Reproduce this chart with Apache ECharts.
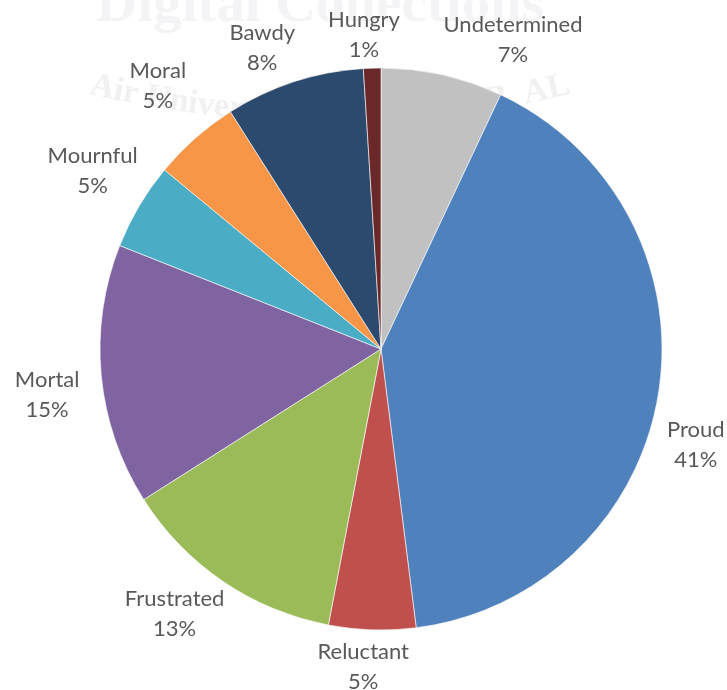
<!DOCTYPE html>
<html>
<head>
<meta charset="utf-8">
<script src="https://cdn.jsdelivr.net/npm/echarts@6/dist/echarts.min.js"></script>
<style>
  html, body { margin: 0; padding: 0; background: #ffffff; }
  #chart { width: 727px; height: 690px; }
</style>
</head>
<body>
<div id="chart"></div>
<script>
// Share of poems by tone (percent)
const categories = ['Undetermined', 'Proud', 'Reluctant', 'Frustrated', 'Mortal', 'Mournful', 'Moral', 'Bawdy', 'Hungry'];
const shares = [7, 41, 5, 13, 15, 5, 5, 8, 1];
const sliceColors = ['#c1c1c1', '#4f81bd', '#c0504d', '#9bbb59', '#8064a2', '#4bacc6', '#f79646', '#2c4a6d', '#6b2828'];

// Label placement tweaks: turn along the rim (degrees, clockwise) and gap from the rim (px)
const labelTurn = [10.5, 7.9, 1.4, 3.7, -2.4, 1.1, 1.1, -3.5, -1.3];
const labelGap = [8, 14, 13, 7, 21, 8, 29, 10.5, 9.6];

const CX = 381, CY = 349, R = 281;
const total = shares.reduce((a, b) => a + b, 0);
const midAngles = [];
let acc = 0;
shares.forEach(v => { midAngles.push((acc + v / 2) / total * 360); acc += v; });

const chart = echarts.init(document.getElementById('chart'), null, { renderer: 'canvas' });

// Faint archive stamp behind the pie
const stampFont = 'bold 34px "Liberation Serif"';
const stampText = 'Air University\u2013Maxwell AFB, AL';
const measureCtx = document.createElement('canvas').getContext('2d');
measureCtx.font = stampFont;
const charW = Array.from(stampText).map(ch => measureCtx.measureText(ch).width);
const arcLen = charW.reduce((a, b) => a + b, 0);
const arcC = { x: 330, y: -926 }, arcR = 1056;
const stampChars = [];
let run = 0;
Array.from(stampText).forEach((ch, k) => {
  const s = run + charW[k] / 2;
  run += charW[k];
  const phi = (s - arcLen / 2) / arcR;
  stampChars.push({
    type: 'text', z: -10, silent: true,
    x: arcC.x + arcR * Math.sin(phi),
    y: arcC.y + arcR * Math.cos(phi),
    rotation: phi,
    style: { text: ch, font: stampFont, fill: '#f1f1f1', align: 'center', verticalAlign: 'bottom' }
  });
});

const option = {
  backgroundColor: '#ffffff',
  animation: false,
  graphic: [
    {
      type: 'text', z: -10, silent: true, left: 96, top: -22,
      style: { text: 'Digital Collections', font: 'bold 57px "Liberation Serif"', fill: '#f4f4f6' }
    }
  ].concat(stampChars),
  series: [{
    type: 'pie',
    center: [CX, CY],
    radius: R,
    startAngle: 90,
    clockwise: true,
    avoidLabelOverlap: false,
    color: sliceColors,
    itemStyle: { borderColor: '#ffffff', borderWidth: 0.6 },
    label: {
      show: true,
      position: 'outside',
      formatter: p => p.name + '\n' + p.value + '%',
      fontFamily: 'Lato',
      fontSize: 22,
      lineHeight: 30,
      color: '#595959',
      align: 'center'
    },
    labelLine: { show: false },
    labelLayout: function (p) {
      const i = p.dataIndex;
      const a = (midAngles[i] + labelTurn[i]) * Math.PI / 180;
      const sx = Math.sin(a), sy = -Math.cos(a);
      const w = p.labelRect.width / 2, h = 22;
      const d = R + labelGap[i] + w * Math.abs(sx) + h * Math.abs(sy);
      return { x: CX + d * sx, y: CY + d * sy, align: 'center', verticalAlign: 'middle' };
    },
    emphasis: { disabled: true },
    data: categories.map((name, i) => ({ name: name, value: shares[i] }))
  }]
};

chart.setOption(option);
</script>
</body>
</html>
